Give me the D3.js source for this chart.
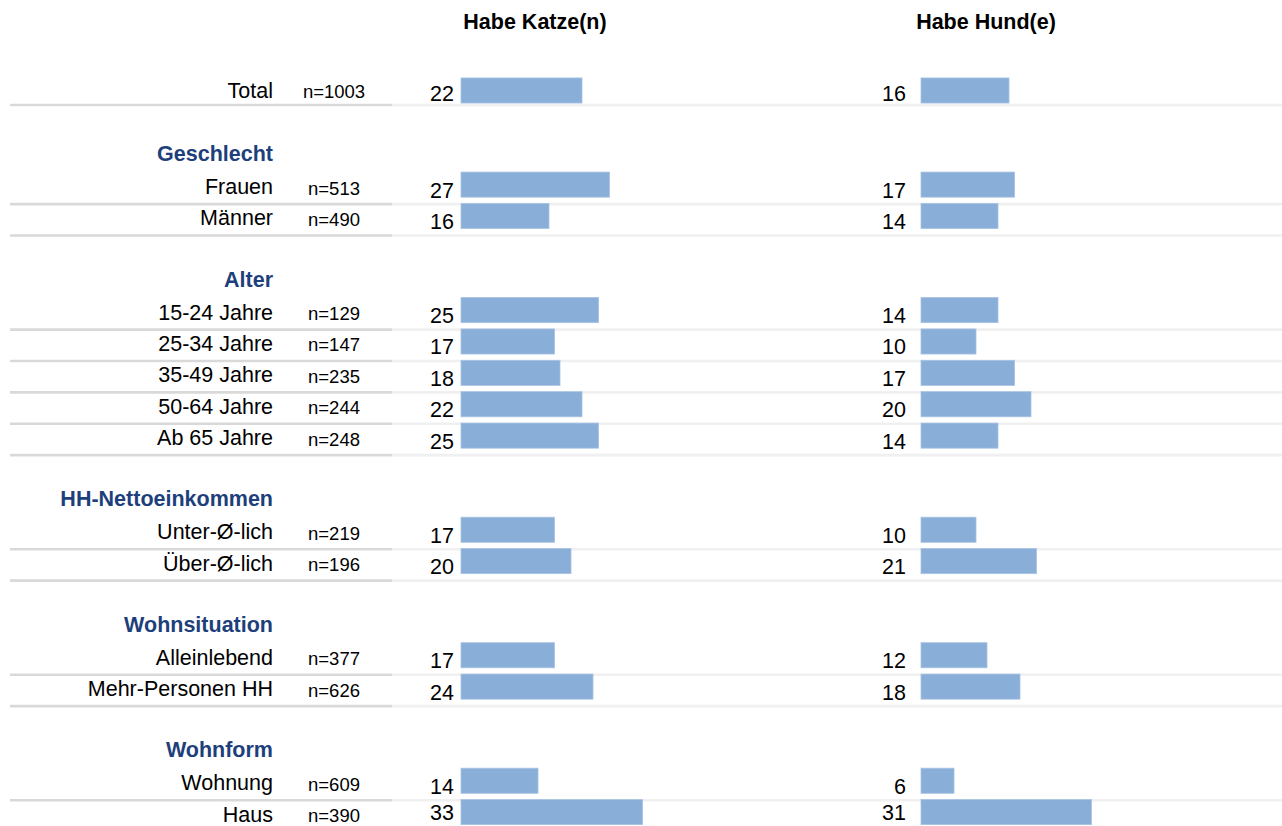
<!DOCTYPE html>
<html>
<head>
<meta charset="utf-8">
<script src="https://cdn.jsdelivr.net/npm/d3@7"></script>
<style>
  body { margin: 0; background: #fff; }
  svg { display: block; font-family: "Liberation Sans", Arial, sans-serif; }
</style>
</head>
<body>
<svg id="chart" width="1282" height="826"></svg>
<script>
// data
const categories = ['Total', 'Frauen', 'Männer', '15-24 Jahre', '25-34 Jahre', '35-49 Jahre',
  '50-64 Jahre', 'Ab 65 Jahre', 'Unter-Ø-lich', 'Über-Ø-lich', 'Alleinlebend',
  'Mehr-Personen HH', 'Wohnung', 'Haus'];
const groups = ['', 'Geschlecht', 'Geschlecht', 'Alter', 'Alter', 'Alter', 'Alter', 'Alter',
  'HH-Nettoeinkommen', 'HH-Nettoeinkommen', 'Wohnsituation', 'Wohnsituation', 'Wohnform', 'Wohnform'];
const sampleSizes = [1003, 513, 490, 129, 147, 235, 244, 248, 219, 196, 377, 626, 609, 390];
const katze = [22, 27, 16, 25, 17, 18, 22, 25, 17, 20, 17, 24, 14, 33];
const hund = [16, 17, 14, 14, 10, 17, 20, 14, 10, 21, 12, 18, 6, 31];
const seriesTitles = ['Habe Katze(n)', 'Habe Hund(e)'];

// config
const width = 1282;
const barColor = '#89aed8';
const headerColor = '#1d3f7b';
const panels = [
  {title: seriesTitles[0], values: katze, x0: 461, labelGap: 7, titleX: 535},
  {title: seriesTitles[1], values: hund, x0: 921, labelGap: 15, titleX: 986},
];

// build row slots: spacer + header before every new group
const slots = [];
const rows = [];
categories.forEach((c, i) => {
  const g = groups[i];
  if (g && g !== groups[i - 1]) {
    slots.push('_spacer_' + g);
    slots.push('_header_' + g);
  }
  slots.push('_row_' + c);
  rows.push({cat: c, group: g, n: sampleSizes[i], key: '_row_' + c, i});
});

const svg = d3.select('#chart');

const y = d3.scaleBand()
  .domain(slots)
  .range([74.8, 827.8])
  .padding(0);
const slotH = y.bandwidth();
const barH = slotH * 0.8;
const center = key => y(key) + slotH / 2;
// first row (Total) sits a little tighter to its rule
const lineOffset = d => d.i === 0 ? 14.5 : 19.5;
const textShift = d => d.i === 0 ? -2 : 0;
// keep the last row's values inside the picture
const valueShift = d => d.i === rows.length - 1 ? -5 : 0;

const x = d3.scaleLinear().domain([0, 100]).range([0, 550]);

// separator lines under each row (skip last)
const lineRows = rows.slice(0, -1);
svg.append('g').selectAll('line.left')
  .data(lineRows)
  .enter().append('line')
  .attr('x1', 10).attr('x2', 392)
  .attr('y1', d => center(d.key) + lineOffset(d))
  .attr('y2', d => center(d.key) + lineOffset(d))
  .attr('stroke', '#d9d9d9').attr('stroke-width', 2.7);
svg.append('g').selectAll('line.right')
  .data(lineRows)
  .enter().append('line')
  .attr('x1', 392).attr('x2', width)
  .attr('y1', d => center(d.key) + lineOffset(d))
  .attr('y2', d => center(d.key) + lineOffset(d))
  .attr('stroke', '#f0f0f0').attr('stroke-width', 2.7);

// group headers
const headerKeys = slots.filter(s => s.startsWith('_header_'));
svg.append('g').selectAll('text')
  .data(headerKeys)
  .enter().append('text')
  .attr('x', 273)
  .attr('y', d => center(d) + 8)
  .attr('text-anchor', 'end')
  .attr('font-size', 21.5)
  .attr('font-weight', 'bold')
  .attr('fill', headerColor)
  .text(d => d.replace('_header_', ''));

// category labels
svg.append('g').selectAll('text')
  .data(rows)
  .enter().append('text')
  .attr('x', 273)
  .attr('y', d => center(d.key) + 9.5 + textShift(d))
  .attr('text-anchor', 'end')
  .attr('font-size', 21.5)
  .attr('fill', '#000')
  .text(d => d.cat);

// n labels
svg.append('g').selectAll('text')
  .data(rows)
  .enter().append('text')
  .attr('x', 334)
  .attr('y', d => center(d.key) + 10 + textShift(d))
  .attr('text-anchor', 'middle')
  .attr('font-size', 18.5)
  .attr('fill', '#000')
  .text(d => 'n=' + d.n);

// panels
panels.forEach(p => {
  svg.append('text')
    .attr('x', p.titleX)
    .attr('y', 29)
    .attr('text-anchor', 'middle')
    .attr('font-size', 21.5)
    .attr('font-weight', 'bold')
    .text(p.title);

  const g = svg.append('g').attr('transform', `translate(${p.x0},0)`);
  g.selectAll('rect')
    .data(rows)
    .enter().append('rect')
    .attr('x', x(0))
    .attr('y', d => center(d.key) - barH / 2)
    .attr('width', d => x(p.values[d.i]))
    .attr('height', barH)
    .attr('fill', barColor)
    .attr('stroke', '#a8c3e3')
    .attr('stroke-width', 0.8);

  g.selectAll('text')
    .data(rows)
    .enter().append('text')
    .attr('x', -p.labelGap)
    .attr('y', d => center(d.key) + 13 + textShift(d) + valueShift(d))
    .attr('text-anchor', 'end')
    .attr('font-size', 21.5)
    .attr('fill', '#000')
    .text(d => p.values[d.i]);
});
</script>
</body>
</html>
